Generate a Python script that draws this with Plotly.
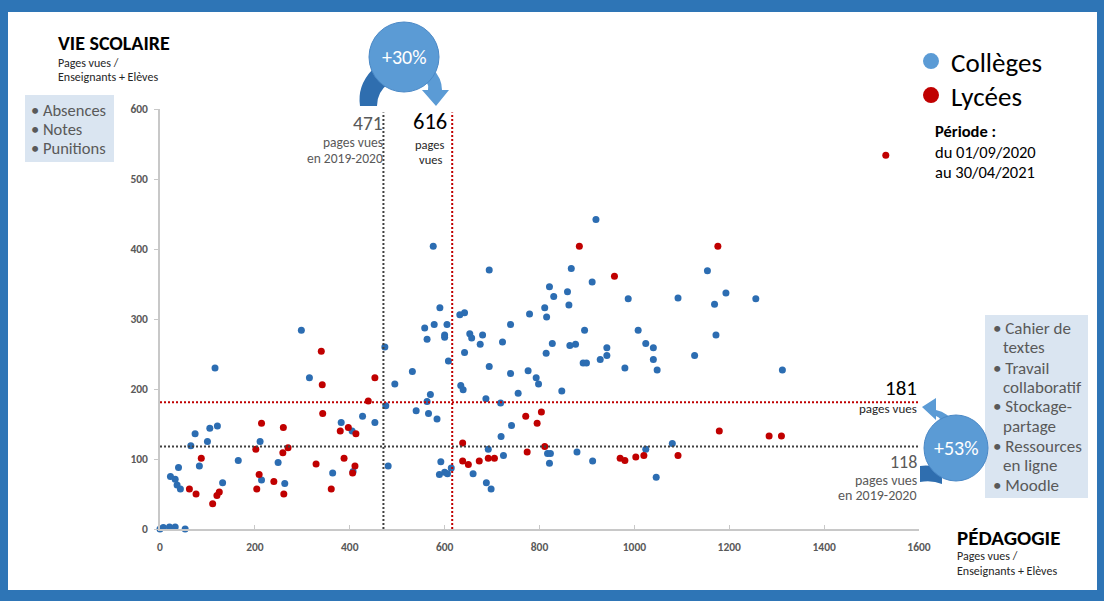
import plotly.graph_objects as go

# ---------------- data ----------------
college_x = [0, 7, 20, 32, 53, 22, 32, 36, 39, 43, 65, 74, 83, 100, 105, 121, 116, 132,
             165, 211, 214, 249, 263, 298, 315, 364, 382, 405, 407, 427, 453,
             474, 476, 481, 495, 532, 540, 558, 563, 563, 566, 570, 578, 584, 576, 590,
             592, 589, 600, 600, 605, 608, 600, 606, 614,
             632, 642, 642, 634, 639, 653, 657, 660, 675, 680, 694, 694, 687, 718, 692,
             688, 698, 719, 724, 741, 722, 739, 739, 755, 776, 779, 793, 798, 811, 815,
             814, 817, 823, 821, 821, 827, 830, 847, 859, 862, 867, 864, 876, 879, 895,
             892, 899, 911, 912, 919, 928, 942, 942, 980, 987, 1008, 1024, 1024, 1040,
             1040, 1046, 1048, 1080, 1092, 1127, 1154, 1169, 1172, 1193, 1256, 1312]
college_y = [0, 2, 3, 3, 0, 75, 71, 63, 88, 57, 119, 136, 90, 125, 144, 147, 230, 66,
             98, 125, 70, 95, 65, 284, 216, 80, 152, 140, 82, 161, 152,
             260, 176, 90, 207, 225, 169, 287, 271, 182, 165, 192, 292, 157, 404, 316,
             96, 78, 277, 274, 292, 240, 81, 79, 87,
             306, 309, 252, 205, 199, 279, 273, 79, 264, 277, 232, 370, 186, 180, 114,
             66, 57, 132, 105, 148, 267, 292, 222, 194, 226, 307, 216, 207, 316, 303,
             251, 108, 108, 94, 346, 265, 332, 197, 339, 320, 372, 262, 264, 110, 284,
             237, 237, 353, 97, 442, 242, 259, 248, 230, 329, 284, 265, 114, 259,
             242, 74, 227, 122, 330, 248, 369, 321, 277, 337, 329, 227]

lycee_x = [62, 76, 87, 111, 120, 125, 202, 214, 204, 209, 240, 260, 259, 270, 261,
           329, 340, 342, 343, 361, 380, 388, 397, 413, 411, 406, 439, 453,
           638, 638, 650, 673, 692, 705, 771, 804, 795, 774, 811,
           884, 958, 970, 980, 1003, 1020, 1092, 1176, 1179, 1284, 1310, 1530]
lycee_y = [57, 50, 101, 36, 48, 53, 114, 151, 57, 78, 68, 145, 109, 116, 50,
           93, 254, 206, 165, 57, 140, 101, 145, 136, 90, 80, 183, 216,
           123, 97, 92, 97, 101, 101, 161, 167, 151, 110, 118,
           404, 361, 101, 98, 103, 105, 105, 404, 140, 133, 133, 534]

x_ticks = [0, 200, 400, 600, 800, 1000, 1200, 1400, 1600]
y_ticks = [0, 100, 200, 300, 400, 500, 600]

x_prev, x_now = 471, 616      # Vie scolaire 2019-2020 / 2020-2021
y_prev, y_now = 118, 181      # Pédagogie 2019-2020 / 2020-2021

series_names = ["Collèges", "Lycées"]
left_bullets = ["• Absences", "• Notes", "• Punitions"]
right_lines = [("• Cahier de", 0), ("textes", 1), ("• Travail", 0), ("collaboratif", 1),
               ("• Stockage-", 0), ("partage", 1), ("• Ressources", 0), ("en ligne", 1),
               ("• Moodle", 0)]

# ---------------- layout helpers ----------------
W, H = 1104, 601
ML, MR, MT, MB = 160, 185, 109, 72
PW, PH = W - ML - MR, H - MT - MB
FONT = "Carlito, Calibri, Lato, sans-serif"
BLUE = "#2E75B6"
DOT_BLUE = "#2C6DB2"
LIGHT = "#5B9BD5"
RED = "#C00000"
GREY = "#595959"


def px(x):
    return (x - ML) / PW


def py(y):
    return (H - MB - y) / PH


def path(cmds):
    out = []
    for c in cmds:
        op, pts = c[0], c[1:]
        s = op
        for i in range(0, len(pts), 2):
            s += f" {px(pts[i]):.5f},{py(pts[i + 1]):.5f}"
        out.append(s)
    return " ".join(out) + " Z"


fig = go.Figure()

fig.add_trace(go.Scatter(x=college_x, y=college_y, mode="markers", name=series_names[0],
                         legendgroup="c", showlegend=False, cliponaxis=False,
                         marker=dict(color=DOT_BLUE, size=7)))
fig.add_trace(go.Scatter(x=lycee_x, y=lycee_y, mode="markers", name=series_names[1],
                         legendgroup="l", showlegend=False, cliponaxis=False,
                         marker=dict(color=RED, size=7)))
# legend entries (one legend box each, to match the slide's spacing)
fig.add_trace(go.Scatter(x=[None], y=[None], mode="markers", name=series_names[0],
                         legendgroup="c", legend="legend",
                         marker=dict(color=LIGHT, size=16)))
fig.add_trace(go.Scatter(x=[None], y=[None], mode="markers", name=series_names[1],
                         legendgroup="l", legend="legend2",
                         marker=dict(color=RED, size=16)))

shapes = []
# white slide inside the blue frame
shapes.append(dict(type="rect", xref="paper", yref="paper", layer="below",
                   x0=px(8), x1=px(1097), y0=py(590), y1=py(12),
                   fillcolor="white", line=dict(width=0)))
# reference lines
dot = "2px,2px"
shapes.append(dict(type="line", xref="x", yref="y", x0=x_prev, x1=x_prev, y0=0, y1=595,
                   line=dict(color="#404040", width=2, dash=dot)))
shapes.append(dict(type="line", xref="x", yref="y", x0=x_now, x1=x_now, y0=0, y1=595,
                   line=dict(color=RED, width=2, dash=dot)))
shapes.append(dict(type="line", xref="x", yref="y", x0=0, x1=1605, y0=y_prev, y1=y_prev,
                   line=dict(color="#404040", width=2, dash=dot)))
shapes.append(dict(type="line", xref="x", yref="y", x0=0, x1=1605, y0=y_now, y1=y_now,
                   line=dict(color=RED, width=2, dash=dot)))
# light boxes
for (a, b, c, d) in [(25, 95, 114, 162), (985, 315, 1088, 498)]:
    shapes.append(dict(type="rect", xref="paper", yref="paper", layer="below",
                       x0=px(a), x1=px(c), y0=py(d), y1=py(b),
                       fillcolor="#DAE5F1", line=dict(width=0)))

# +30% curved arrow
shapes.append(dict(type="path", xref="paper", yref="paper",
                   path=path([("M", 372, 70), ("Q", 357, 86, 360, 106), ("L", 377, 106),
                              ("Q", 377, 92, 388, 84)]),
                   fillcolor="#2F6EAF", line=dict(width=0)))
shapes.append(dict(type="path", xref="paper", yref="paper",
                   path=path([("M", 420, 76), ("Q", 430, 82, 428, 90), ("L", 422, 90),
                              ("L", 436, 106), ("L", 449, 90), ("L", 442, 90),
                              ("Q", 442, 78, 432, 68)]),
                   fillcolor=LIGHT, line=dict(width=0)))
shapes.append(dict(type="circle", xref="paper", yref="paper",
                   x0=px(369), x1=px(439), y0=py(92), y1=py(22),
                   fillcolor=LIGHT, line=dict(color="#4A88C6", width=1)))
# +53% curved arrow
shapes.append(dict(type="path", xref="paper", yref="paper",
                   path=path([("M", 955, 425), ("Q", 948, 412, 936, 410), ("L", 936, 398),
                              ("L", 922, 407), ("L", 936, 420), ("L", 936, 416),
                              ("Q", 942, 418, 944, 428)]),
                   fillcolor=LIGHT, line=dict(width=0)))
shapes.append(dict(type="path", xref="paper", yref="paper",
                   path=path([("M", 920, 466), ("Q", 932, 464, 942, 470), ("L", 942, 484),
                              ("Q", 932, 480, 920, 482)]),
                   fillcolor="#2F6EAF", line=dict(width=0)))
shapes.append(dict(type="circle", xref="paper", yref="paper",
                   x0=px(924), x1=px(988), y0=py(481), y1=py(415),
                   fillcolor=LIGHT, line=dict(color="#4A88C6", width=1)))

ann = []


def txt(x, y, s, size, color="black", anchor="left", bold=False):
    ann.append(dict(x=px(x), y=py(y), xref="paper", yref="paper", text=s,
                    showarrow=False, xanchor=anchor, yanchor="middle",
                    font=dict(family=FONT, size=size, color=color,
                              weight="bold" if bold else "normal")))


txt(56, 43, "VIE SCOLAIRE", 20, bold=True)
txt(56, 63, "Pages vues /", 12, "#262626")
txt(56, 77, "Enseignants + Elèves", 12, "#262626")
for i, s in enumerate(left_bullets):
    txt(29, 110 + 19 * i, s, 16.5, GREY)

txt(385, 123, "471", 19.5, GREY, "right")
txt(385, 142, "pages vues", 13.5, GREY, "right")
txt(385, 158, "en 2019-2020", 13.5, GREY, "right")
txt(430, 121.5, "616", 22.5, "black", "center")
txt(430, 144, "pages", 12.5, "#262626", "center")
txt(430, 159, "vues", 12.5, "#262626", "center")
txt(404, 57, "+30%", 20, "white", "center")

txt(933, 131, "Période :", 16.5, bold=True)
txt(933, 152, "du 01/09/2020", 16.5)
txt(933, 172, "au 30/04/2021", 16.5)

txt(919, 388, "181", 21, "black", "right")
txt(919, 408, "pages vues", 13, "#262626", "right")
txt(919, 462, "118", 18, GREY, "right")
txt(919, 480, "pages vues", 14, GREY, "right")
txt(919, 495, "en 2019-2020", 14, GREY, "right")
txt(956, 448, "+53%", 20, "white", "center")

ys = [328, 347, 368, 387, 407, 426, 446, 465, 485]
for (s, indent), yy in zip(right_lines, ys):
    txt(991 + 10 * indent, yy, s, 17, GREY)

txt(955, 538, "PÉDAGOGIE", 21, bold=True)
txt(955, 556, "Pages vues /", 12, "#262626")
txt(955, 571, "Enseignants + Elèves", 12, "#262626")

axis_common = dict(showgrid=False, zeroline=False, showline=True, linecolor="#C8C8C8",
                   linewidth=1.5, tickcolor="#C8C8C8", ticklen=4,
                   tickfont=dict(family=FONT, size=11.5, color=GREY, weight="bold"))

legend_style = dict(xanchor="left", yanchor="top", bgcolor="rgba(0,0,0,0)",
                    font=dict(family=FONT, size=27, color="black"), itemwidth=30)

fig.update_layout(
    width=W, height=H, autosize=False,
    margin=dict(l=ML, r=MR, t=MT, b=MB, pad=0),
    paper_bgcolor=BLUE, plot_bgcolor="rgba(0,0,0,0)",
    xaxis=dict(range=[0, 1600], tickvals=x_ticks, ticks="inside", ticklabelstandoff=6,
               **axis_common),
    yaxis=dict(range=[0, 600], tickvals=y_ticks, ticks="outside", ticklabelstandoff=4,
               **axis_common),
    shapes=shapes, annotations=ann,
    legend=dict(x=px(911), y=py(37), **legend_style),
    legend2=dict(x=px(911), y=py(71), **legend_style),
    font=dict(family=FONT),
)

fig.write_html("out.html", config={"displayModeBar": False},
               post_script="document.body.style.margin='0px';")
